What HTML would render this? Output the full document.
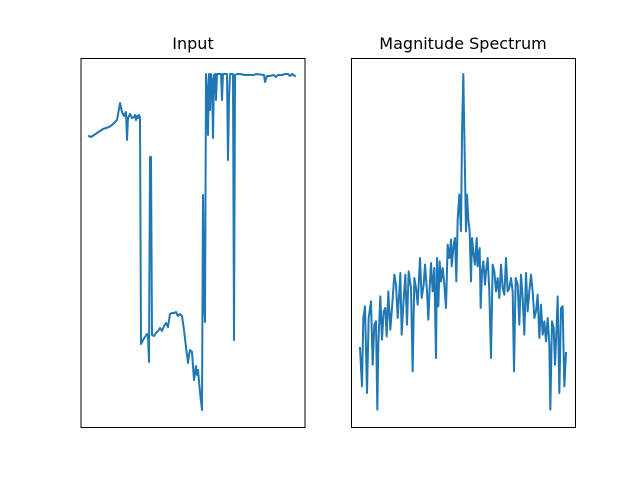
<!DOCTYPE html>
<html><head><meta charset="utf-8"><style>
html,body{margin:0;padding:0;background:#fff}
svg{display:block;font-family:"DejaVu Sans","Liberation Sans",sans-serif}
</style></head><body>
<svg id="fig" width="640" height="480" viewBox="0 0 640 480">
<rect x="0" y="0" width="640" height="480" fill="#fff"/>
<text x="193" y="49" font-size="16" text-anchor="middle" fill="#000">Input</text>
<text x="463" y="49" font-size="16" text-anchor="middle" fill="#000">Magnitude Spectrum</text>
<g id="left"></g>
<g id="right"></g>
<rect x="81" y="58.5" width="224" height="369" fill="none" stroke="#000" stroke-width="1"/>
<rect x="351.5" y="58.5" width="224" height="369" fill="none" stroke="#000" stroke-width="1"/>
</svg>
<script>
// Input signal: sample positions and amplitudes (arbitrary units)
const inputX = [0,2,5,8,11,14,17,20,23,26,28,30,31,33,35,37,38,39,41,43,45,46,47,48,49,50,51,52,54,56,58,59,60,61,62,63,65,67,69,71,73,75,77,79,81,83,85,87,89,91,93,95,97,99,100,101,103,105,107,108,109,111,113,114,115,116,117,118,119,120,121,122,123,124,125,126,127,128,130,132,133,134,135,138,139,140,141,144,145,146,148,151,156,161,165,167,175,176,178,181,185,187,189,193,196,199,201,203,206];
const inputY = [291,290,292,294,296,298,299,300,302,305,307,318,324,315,311,315,287,309,313,309,310,312,307,311,309,312,309,83,87,90,93,91,65,270,270,92,91,94,96,99,96,101,104,100,113,114,114,115,111,113,111,97,80,64,72,77,75,47,61,52,57,35,17,232,127,105,353,337,292,353,317,353,347,289,352,353,327,353,353,353,327,353,353,353,267,327,353,353,87,352,353,353,352,352,352,353,352,345,351,351,352,350,352,352,353,353,351,353,351];
// Magnitude spectrum: frequency bins and magnitudes (arbitrary units)
const specX = [27,33,37,42,48,53,60,65,70,75,79,82,88,93,98,103,107,112,118,123,130,135,140,145,148,152,157,163,168,173,180,185,190,195,200,207,212,218,222,228,232,236,240,245,250,255,258,262,266,270,275,280,285,290,295,300,302,308,312,316,320,325,330,333,337,340,345,348,352,356,360,363,368,372,377,380,386,389,393,397,402,405,410,415,420,425,430,435,440,445,450,455,460,465,470,475,480,485,489,494,500,505,510,515,520,525,530,535,540,545,550,555,560,565,570,575,580,585,590,595,598,603,608,612,617,620,625,630,635,640,645];
const specY = [240,125,330,365,105,330,380,190,310,320,55,250,395,265,350,360,275,410,295,360,460,430,330,410,465,280,370,460,310,470,420,170,450,420,370,510,390,430,490,410,325,420,495,410,480,210,510,365,500,440,480,430,360,550,510,565,485,550,570,440,625,700,590,880,1062,880,590,700,625,590,440,570,520,490,570,485,540,360,470,500,430,470,510,410,210,490,470,410,450,390,490,420,400,510,410,420,450,410,170,450,430,310,460,390,280,465,350,410,460,410,330,350,400,270,370,280,320,260,330,250,55,320,300,190,310,395,105,360,365,125,225];

const NS='http://www.w3.org/2000/svg';
function mkScale(d0,d1,r0,r1){return v=>r0+(v-d0)/(d1-d0)*(r1-r0);}
function drawLine(g,xs,ys,sx,sy,name){
  let d='';
  const n=Math.min(xs.length,ys.length);
  for(let i=0;i<n;i++){d+=(i?'L':'M')+sx(xs[i]).toFixed(2)+','+sy(ys[i]).toFixed(2);}
  const p=document.createElementNS(NS,'path');
  p.setAttribute('d',d);p.setAttribute('fill','none');p.setAttribute('stroke','#1f77b4');
  p.setAttribute('stroke-width','2');p.setAttribute('stroke-linejoin','round');p.setAttribute('stroke-linecap','square');
  
  
  g.appendChild(p);
}
const lx=mkScale(0,206,89,295), ly=mkScale(0,369,427,58);
drawLine(document.getElementById('left'),inputX,inputY,lx,ly,'input-signal-line');
const rx=mkScale(0,675,351,576), ry=mkScale(0,1110,428,58);
drawLine(document.getElementById('right'),specX,specY,rx,ry,'spectrum-line');
</script>
</body></html>
